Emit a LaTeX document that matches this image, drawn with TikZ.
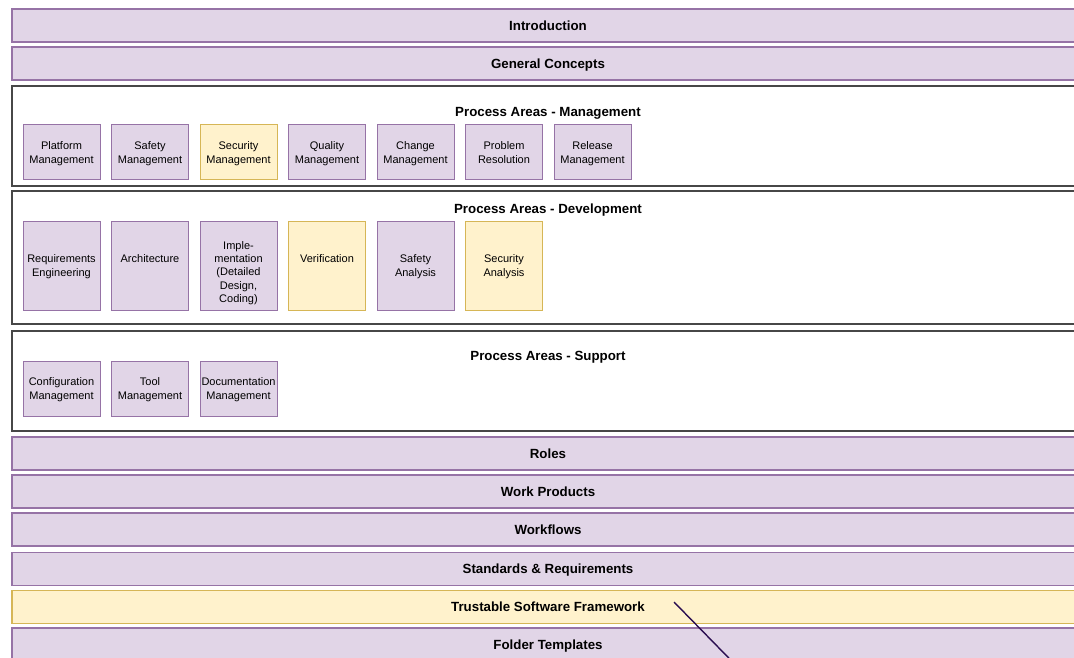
\documentclass[tikz,border=0pt]{standalone}
\usepackage{fontspec}
\setmainfont{Liberation Sans}
\definecolor{lilac}{HTML}{E1D5E7}
\definecolor{lilacline}{HTML}{9673A6}
\definecolor{cream}{HTML}{FFF2CC}
\definecolor{creamline}{HTML}{D6B656}
\definecolor{inkline}{HTML}{2A0D50}

\begin{document}
\begin{tikzpicture}[x=1pt,y=-1pt,
  bar/.style={draw=lilacline,fill=lilac,line width=1.2pt,minimum width=1072pt,minimum height=33pt,
    inner sep=0pt,text height=9.6pt,text depth=0pt,font=\bfseries\fontsize{13.3}{16}\selectfont},
  hibar/.style={bar,draw=creamline,fill=cream},
  area/.style={draw=black!72,line width=1.3pt,minimum width=1072pt,inner sep=0pt},
  areatitle/.style={inner sep=0pt,text height=9.6pt,text depth=0pt,font=\bfseries\fontsize{13.3}{16}\selectfont},
  pa/.style={draw=lilacline,fill=lilac,line width=1pt,minimum width=77pt,inner sep=0pt,
    align=center,text depth=0pt,font=\fontsize{11}{13.3}\selectfont},
  hipa/.style={pa,draw=creamline,fill=cream}]
\useasboundingbox (0,0) rectangle (1074,658);

% top bars
\node [bar] (intro) at (548,25.5) {Introduction};
\node [bar] (concepts) at (548,63.5) {General Concepts};

% process areas - management
\node [area,minimum height=100pt] (mgmt) at (548,136) {};
\node [areatitle] (mgmtTitle) at (548,112) {Process Areas - Management};
\node [pa,minimum height=55pt] (platform) at (61.5,152.5) {Platform\\Management};
\node [pa,minimum height=55pt] (safetyMgmt) at (150,152.5) {Safety\\Management};
\node [hipa,minimum height=55pt] (securityMgmt) at (238.5,152.5) {Security\\Management};
\node [pa,minimum height=55pt] (quality) at (327,152.5) {Quality\\Management};
\node [pa,minimum height=55pt] (change) at (415.5,152.5) {Change\\Management};
\node [pa,minimum height=55pt] (problem) at (504,152.5) {Problem\\Resolution};
\node [pa,minimum height=55pt] (release) at (592.5,152.5) {Release\\Management};

% process areas - development
\node [area,minimum height=133pt] (dev) at (548,257.5) {};
\node [areatitle] (devTitle) at (548,209) {Process Areas - Development};
\node [pa,minimum height=89pt] (reqEng) at (61.5,265.5) {Requirements\\Engineering};
\node [pa,minimum height=89pt] (arch) at (150,265.5) {Architecture\\\mbox{}};
\node [pa,minimum height=89pt] (impl) at (238.5,265.5) {\vphantom{I}\\Imple-\\mentation\\(Detailed\\Design,\\Coding)};
\node [hipa,minimum height=89pt] (verif) at (327,265.5) {Verification\\\mbox{}};
\node [pa,minimum height=89pt] (safetyAna) at (415.5,265.5) {Safety\\Analysis};
\node [hipa,minimum height=89pt] (securityAna) at (504,265.5) {Security\\Analysis};

% process areas - support
\node [area,minimum height=100pt] (supp) at (548,381) {};
\node [areatitle] (suppTitle) at (548,356) {Process Areas - Support};
\node [pa,minimum height=55pt] (config) at (61.5,388.5) {Configuration\\Management};
\node [pa,minimum height=55pt] (tool) at (150,388.5) {Tool\\Management};
\node [pa,minimum height=55pt] (docu) at (238.5,388.5) {Documentation\\Management};

% bottom bars
\node [bar] (roles) at (548,453.5) {Roles};
\node [bar] (workProd) at (548,491.5) {Work Products};
\node [bar] (workflows) at (548,529.5) {Workflows};
\node [bar] (standards) at (548,569) {Standards \& Requirements};
\node [hibar] (tsf) at (548,607) {Trustable Software Framework};
\node [bar] (folders) at (548,644.5) {Folder Templates};

% link leaving the picture
\coordinate (tsfTip) at (674,602);
\coordinate (tsfFoot) at (762,692);
\draw [inkline,line width=1.4pt] (tsfTip) -- (tsfFoot);
\end{tikzpicture}
\end{document}
